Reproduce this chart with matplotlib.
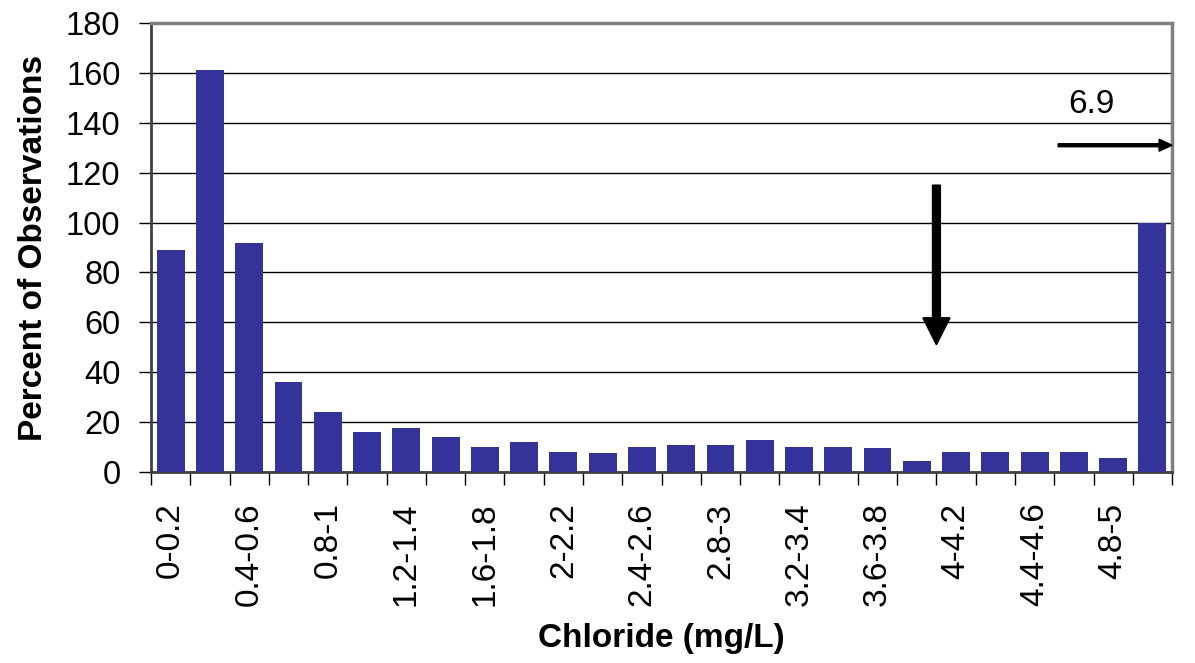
import matplotlib
matplotlib.use('Agg')
import matplotlib.pyplot as plt
import numpy as np

plt.rcParams['font.family'] = ['Liberation Sans', 'DejaVu Sans']

# Data
bins = ['0-0.2', '0.2-0.4', '0.4-0.6', '0.6-0.8', '0.8-1', '1-1.2', '1.2-1.4',
        '1.4-1.6', '1.6-1.8', '1.8-2', '2-2.2', '2.2-2.4', '2.4-2.6', '2.6-2.8',
        '2.8-3', '3-3.2', '3.2-3.4', '3.4-3.6', '3.6-3.8', '3.8-4', '4-4.2',
        '4.2-4.4', '4.4-4.6', '4.6-4.8', '4.8-5', '5-6.9']
percent = [89, 161, 92, 36, 24, 16, 17.5, 14, 10, 12, 8, 7.5, 10, 11,
           11, 13, 10, 10, 9.5, 4.5, 8, 8, 8, 8, 5.5, 100]
yticks = list(range(0, 181, 20))
max_label = '6.9'

x = np.arange(len(bins))

fig = plt.figure(figsize=(11.95, 6.63), dpi=100)
ax = fig.add_axes([0.1264, 0.2881, 0.8544, 0.6772])

ax.bar(x, percent, width=0.71, color='#333399', zorder=3)

# Axes limits and grid
ax.set_xlim(-0.5, len(bins) - 0.5)
ax.set_ylim(0, 180)
ax.set_yticks(yticks)
ax.yaxis.grid(True, color='black', linewidth=1.0, zorder=1)
ax.set_axisbelow(True)

# y ticks
ax.tick_params(axis='y', direction='out', length=9, width=1, pad=13, labelsize=23.5)

# x ticks: labels on every other bar, tick marks at bin boundaries
ax.set_xticks(x[::2])
ax.set_xticklabels(bins[::2], rotation=90, fontsize=24)
ax.tick_params(axis='x', which='major', length=0, pad=22)
ax.set_xticks(np.arange(len(bins) + 1) - 0.5, minor=True)
ax.tick_params(axis='x', which='minor', direction='out', length=9, width=1)

# Frame
for side in ['top', 'right']:
    ax.spines[side].set_color('#808080')
    ax.spines[side].set_linewidth(2.5)
for side in ['left', 'bottom']:
    ax.spines[side].set_color('#404040')
    ax.spines[side].set_linewidth(2)

ax.set_ylabel('Percent of Observations', fontsize=24, fontweight='bold', labelpad=12)
ax.set_xlabel('Chloride (mg/L)', fontsize=24, fontweight='bold', labelpad=12)

# Annotations
ax.arrow(19.5, 115, 0, -64, width=0.2, head_width=0.69, head_length=10.8,
         length_includes_head=True, color='black', zorder=4)
ax.arrow(22.6, 131, 2.9, 0, width=1.2, head_width=4.8, head_length=0.33,
         length_includes_head=True, color='black', zorder=4, clip_on=False)
ax.text(23.44, 147.5, max_label, fontsize=24, ha='center', va='center')

fig.savefig('out.png', dpi=100)
